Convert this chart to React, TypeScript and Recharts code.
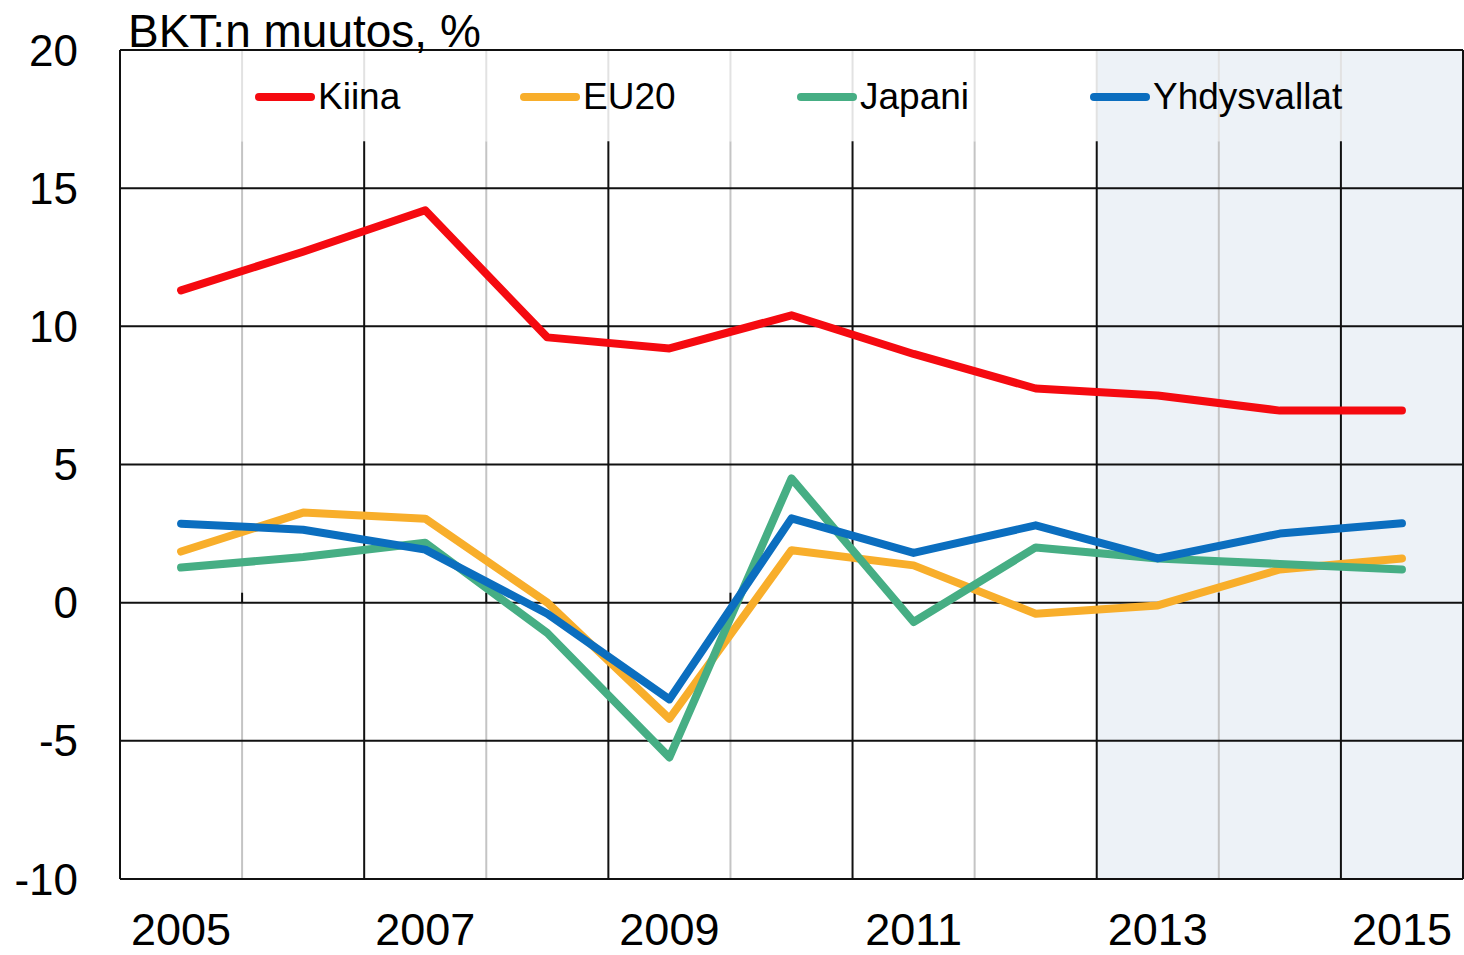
import React from 'react'
import {
  LineChart,
  Line,
  XAxis,
  YAxis,
  ReferenceArea,
  ReferenceLine
} from 'recharts'

const years = [2005, 2006, 2007, 2008, 2009, 2010, 2011, 2012, 2013, 2014, 2015]
const kiina = [11.3, 12.7, 14.2, 9.6, 9.2, 10.4, 9.0, 7.75, 7.5, 6.95, 6.95]
const eu20 = [1.85, 3.26, 3.04, 0.0, -4.2, 1.9, 1.35, -0.4, -0.1, 1.2, 1.6]
const japani = [1.27, 1.65, 2.17, -1.1, -5.6, 4.5, -0.7, 2.0, 1.6, 1.4, 1.2]
const yhdysvallat = [2.86, 2.64, 1.92, -0.4, -3.5, 3.05, 1.8, 2.8, 1.6, 2.5, 2.87]

const xTicks = [2005, 2007, 2009, 2011, 2013, 2015]
const yTicks = [-10, -5, 0, 5, 10, 15, 20]
const hLines = [-5, 0, 5, 10, 15, 20]
const darkBounds = [2006.5, 2008.5, 2010.5, 2012.5, 2014.5]
const lightBounds = [2005.5, 2007.5, 2009.5, 2011.5, 2013.5]
const forecastStart = 2012.5
const legendTop = 16.7 // where the legend band ends

const series = [
  { key: 'kiina', name: 'Kiina', color: '#f50a10', left: 255 },
  { key: 'eu20', name: 'EU20', color: '#f8ae2b', left: 520 },
  { key: 'japani', name: 'Japani', color: '#46ae84', left: 797 },
  { key: 'yhdysvallat', name: 'Yhdysvallat', color: '#0b6ebf', left: 1090 }
]

const data = years.map((year, i) => ({
  year,
  kiina: kiina[i],
  eu20: eu20[i],
  japani: japani[i],
  yhdysvallat: yhdysvallat[i]
}))

const font = '"Liberation Sans", Arial, sans-serif'

export default function App() {
  return (
    <div
      style={{
        position: 'absolute',
        left: 0,
        top: 0,
        width: 1464,
        height: 955,
        background: '#fff',
        fontFamily: font
      }}
    >
      <LineChart
        width={1464}
        height={955}
        data={data}
        margin={{ top: 50, right: 1, bottom: 0, left: 0 }}
      >
        <XAxis
          dataKey='year'
          type='number'
          domain={[2004.5, 2015.5]}
          ticks={xTicks}
          height={76}
          tickSize={0}
          tickMargin={34}
          axisLine={{ stroke: '#111', strokeWidth: 2 }}
          tick={{ fill: '#000', fontSize: 45, fontFamily: font }}
          allowDataOverflow
        />
        <YAxis
          type='number'
          domain={[-10, 20]}
          ticks={yTicks}
          width={120}
          tickSize={0}
          tickMargin={42}
          axisLine={{ stroke: '#111', strokeWidth: 2 }}
          tick={{ fill: '#000', fontSize: 44, fontFamily: font }}
          allowDataOverflow
        />
        <ReferenceArea
          x1={forecastStart}
          x2={2015.5}
          y1={-10}
          y2={20}
          fill='#edf2f7'
          fillOpacity={1}
          stroke='none'
        />
        {lightBounds.map((x) => (
          <ReferenceLine
            key={'l' + x}
            segment={[{ x, y: -10 }, { x, y: legendTop }]}
            stroke='#c4c4c4'
            strokeWidth={2}
          />
        ))}
        {[...lightBounds, ...darkBounds].map((x) => (
          <ReferenceLine
            key={'t' + x}
            segment={[{ x, y: legendTop }, { x, y: 20 }]}
            stroke='#e2e2e2'
            strokeWidth={2}
          />
        ))}
        {darkBounds.map((x) => (
          <ReferenceLine
            key={'d' + x}
            segment={[{ x, y: -10 }, { x, y: legendTop }]}
            stroke='#111'
            strokeWidth={2}
          />
        ))}
        {lightBounds.map((x) => (
          <ReferenceLine
            key={'k' + x}
            segment={[{ x, y: 0 }, { x, y: 0.36 }]}
            stroke='#111'
            strokeWidth={2}
          />
        ))}
        {hLines.map((y) => (
          <ReferenceLine key={'h' + y} y={y} stroke='#111' strokeWidth={2} />
        ))}
        <ReferenceLine x={2015.5} stroke='#111' strokeWidth={2} />
        {series.map((s) => (
          <Line
            key={s.key}
            type='linear'
            dataKey={s.key}
            name={s.name}
            stroke={s.color}
            strokeWidth={8}
            strokeLinecap='round'
            strokeLinejoin='round'
            dot={false}
            activeDot={false}
            isAnimationActive={false}
          />
        ))}
      </LineChart>

      <div
        style={{
          position: 'absolute',
          left: 128,
          top: 8,
          fontSize: 46,
          lineHeight: '46px',
          color: '#000',
          whiteSpace: 'nowrap'
        }}
      >
        BKT:n muutos, %
      </div>

      {series.map((s) => (
        <div
          key={s.key}
          style={{
            position: 'absolute',
            left: s.left,
            top: 78,
            height: 37,
            display: 'flex',
            alignItems: 'center',
            fontSize: 37,
            lineHeight: '37px',
            color: '#000',
            whiteSpace: 'nowrap'
          }}
        >
          <span
            style={{
              display: 'inline-block',
              width: 60,
              height: 8,
              borderRadius: 4,
              background: s.color,
              marginRight: 3
            }}
          />
          {s.name}
        </div>
      ))}
    </div>
  )
}
